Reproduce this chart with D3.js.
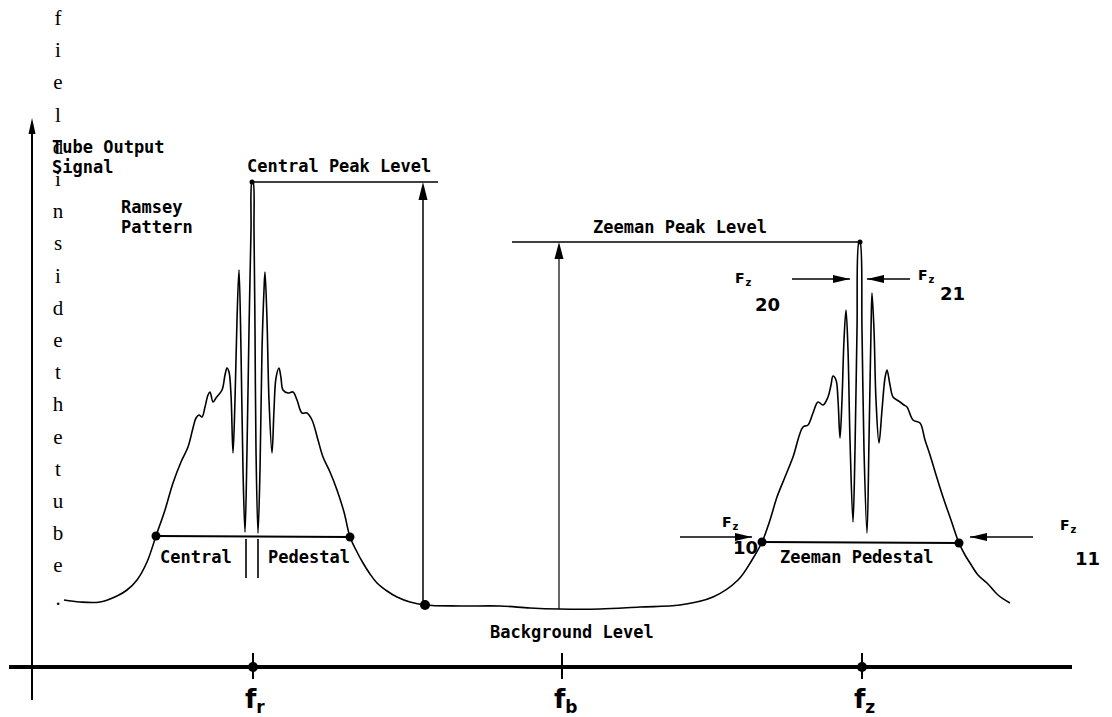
<!DOCTYPE html>
<html>
<head>
<meta charset="utf-8">
<script src="https://cdn.jsdelivr.net/npm/d3@7"></script>
<style>
  body { margin: 0; background: #fff; }
  svg { display: block; }
  .mono { font-family: "DejaVu Sans Mono", monospace; font-size: 17px; font-weight: bold; }
  .sans { font-family: "DejaVu Sans", sans-serif; font-weight: bold; }
  .serif { font-family: "Liberation Serif", serif; font-size: 21px; }
</style>
</head>
<body>
<svg id="chart"></svg>
<script>
// tube output trace: [frequency (arb. units), signal (arb. units)]
const tubeTrace = [
  [32,67],[48,65],[68,65],[85,71],[95,77],[105,87],[115,105],[124,131],[133,157],[141,184],
  [149,205],[156,220],[161,239],[164,249],[167,252],[170,250],[173,260],[176,272],[178,275],
  [181,265],[184,269],[190,277],[193,292],[195,299],[197,295],[199,272],[201,214],[203,267],
  [205,347],[207,397],[209,317],[211,197],[213,135],[215,217],[217,337],[219,437],[220,485],
  [221,485],[222,437],[223,337],[224,217],[226,134],[228,197],[230,317],[232,377],[233,395],
  [235,347],[237,267],[240,214],[242,257],[244,289],[247,299],[249,289],[251,277],[256,274],
  [261,275],[265,267],[270,254],[275,254],[280,247],[286,227],[291,210],[298,195],[305,177],
  [312,155],[318,130],[324,117],[331,104],[338,93],[345,84],[355,76],[365,70],[378,65],[393,62],
  [428,61],[468,61],[498,59],[527,58],[568,58],[608,60],[648,62],
  [681,70],[706,87],[720,107],[730,125],[738,147],[745,170],[753,190],[761,210],[771,240],
  [776,242],[781,254],[786,265],[791,262],[796,270],[799,282],[801,291],[804,287],[806,267],
  [808,229],[810,267],[812,327],[814,357],[816,317],[818,227],[821,145],[823,217],[825,337],
  [827,425],[828,425],[830,337],[832,217],[835,134],[837,227],[839,337],[840,374],[842,337],
  [844,267],[847,224],[850,257],[853,289],[855,297],[858,282],[861,270],[865,267],[868,265],
  [872,262],[875,260],[881,247],[888,244],[893,227],[898,212],[905,189],[911,170],[919,147],
  [927,124],[933,112],[938,104],[946,92],[955,84],[966,72],[978,64]
];

// frequency markers on the axis
const markerNames = ["r", "b", "z"];
const markerFreqs = [221, 530, 830];
const markerDots = [true, false, true];

// levels
const centralPeak = 485, zeemanPeak = 425;
const centralBase = 62, zeemanBase = 58;
const centralPedestal = [[124,131],[318,130]];
const zeemanPedestal = [[730,125],[927,124]];

// Fz arrows: [from, to, signal]
const fzArrows = [[760,818,388],[878,835,388],[648,720,130],[1001,938,130]];
const fzNames = ["20", "21", "10", "11"];

const sideNote = "field inside the tube.";

const W = 1112, H = 717;
const svg = d3.select("#chart").attr("width", W).attr("height", H);

const x = d3.scaleLinear().domain([0, 1040]).range([32, 1072]);
const y = d3.scaleLinear().domain([0, 549]).range([667, 118]);

function head(tx, ty, dir, len, half) {
  let p;
  if (dir === "up") p = [[tx,ty],[tx-half,ty+len],[tx+half,ty+len]];
  else if (dir === "right") p = [[tx,ty],[tx-len,ty-half],[tx-len,ty+half]];
  else p = [[tx,ty],[tx+len,ty-half],[tx+len,ty+half]];
  svg.append("path").attr("d", "M" + p.join("L") + "Z").attr("fill", "#000");
}

// side note, one letter per line
svg.append("g").selectAll("text")
  .data(sideNote.replace(/ /g, "").split(""))
  .join("text")
  .attr("class", "serif")
  .attr("x", x(26))
  .attr("y", (d, i) => y(642 - 32.2 * i))
  .attr("text-anchor", "middle")
  .text(d => d);

// axes
svg.append("line").attr("x1", x(0)).attr("x2", x(0)).attr("y1", y(-33)).attr("y2", y(540))
  .attr("stroke", "#000").attr("stroke-width", 2);
head(x(0), y(549), "up", 16, 3.5);
svg.append("line").attr("x1", x(-23)).attr("x2", x(1040)).attr("y1", y(0)).attr("y2", y(0))
  .attr("stroke", "#000").attr("stroke-width", 4);

const mk = svg.append("g").selectAll("g").data(markerFreqs).join("g");
mk.append("line")
  .attr("x1", d => x(d)).attr("x2", d => x(d))
  .attr("y1", y(14)).attr("y2", y(-12))
  .attr("stroke", "#000").attr("stroke-width", 2);
mk.filter((d, i) => markerDots[i]).append("circle")
  .attr("cx", d => x(d)).attr("cy", y(0)).attr("r", 5);
const lab = mk.append("text").attr("class", "sans")
  .attr("x", d => x(d) - 8).attr("y", y(-41))
  .attr("font-size", 26);
lab.append("tspan").text("f");
lab.append("tspan").attr("font-size", 17).attr("dy", 5).text((d, i) => markerNames[i]);

// trace
const line = d3.line().x(d => x(d[0])).y(d => y(d[1])).curve(d3.curveCatmullRom.alpha(0.5));
svg.append("path").datum(tubeTrace).attr("d", line)
  .attr("fill", "none").attr("stroke", "#000").attr("stroke-width", 1.6);

// pedestals
[centralPedestal, zeemanPedestal].forEach(p => {
  svg.append("line").attr("x1", x(p[0][0])).attr("y1", y(p[0][1]))
    .attr("x2", x(p[1][0])).attr("y2", y(p[1][1]))
    .attr("stroke", "#000").attr("stroke-width", 2);
  p.forEach(d => svg.append("circle").attr("cx", x(d[0])).attr("cy", y(d[1])).attr("r", 4.5));
});
[214, 226].forEach(f => svg.append("line").attr("x1", x(f)).attr("x2", x(f))
  .attr("y1", y(128)).attr("y2", y(89)).attr("stroke", "#000").attr("stroke-width", 1.6));

// peak levels
svg.append("line").attr("x1", x(220)).attr("x2", x(406)).attr("y1", y(centralPeak)).attr("y2", y(centralPeak))
  .attr("stroke", "#000").attr("stroke-width", 1.5);
svg.append("circle").attr("cx", x(220)).attr("cy", y(centralPeak)).attr("r", 2.5);
svg.append("line").attr("x1", x(391)).attr("x2", x(391)).attr("y1", y(centralBase)).attr("y2", y(centralPeak - 10))
  .attr("stroke", "#000").attr("stroke-width", 1.5);
head(x(391), y(centralPeak), "up", 18, 4.5);
svg.append("circle").attr("cx", x(393)).attr("cy", y(centralBase)).attr("r", 5);

svg.append("line").attr("x1", x(480)).attr("x2", x(828)).attr("y1", y(zeemanPeak)).attr("y2", y(zeemanPeak))
  .attr("stroke", "#000").attr("stroke-width", 1.5);
svg.append("circle").attr("cx", x(828)).attr("cy", y(zeemanPeak)).attr("r", 2.5);
svg.append("line").attr("x1", x(527)).attr("x2", x(527)).attr("y1", y(zeemanBase)).attr("y2", y(zeemanPeak - 10))
  .attr("stroke", "#000").attr("stroke-width", 1.2);
head(x(527), y(zeemanPeak), "up", 17, 4.5);

// Fz arrows
fzArrows.forEach(a => {
  svg.append("line").attr("x1", x(a[0])).attr("x2", x(a[1])).attr("y1", y(a[2])).attr("y2", y(a[2]))
    .attr("stroke", "#000").attr("stroke-width", 1.6);
  head(x(a[1]), y(a[2]), a[1] > a[0] ? "right" : "left", 17, 4);
});
const fzPos = [[703,384,723,356],[886,387,908,367],[690,140,701,113],[1028,137,1043,102]];
fzPos.forEach((p, i) => {
  const t = svg.append("text").attr("class", "sans").attr("x", x(p[0])).attr("y", y(p[1])).attr("font-size", 14);
  t.append("tspan").text("F");
  t.append("tspan").attr("font-size", 10).attr("dy", 3).attr("dx", 1).text("z");
  svg.append("text").attr("class", "sans").attr("x", x(p[2])).attr("y", y(p[3]))
    .attr("font-size", 18).text(fzNames[i]);
});

// text labels
const labels = [
  ["Tube Output", 20, 514], ["Signal", 20, 494], ["Ramsey", 89, 454], ["Pattern", 89, 434],
  ["Central Peak Level", 215, 495], ["Zeeman Peak Level", 561, 434],
  ["Central", 128, 104], ["Pedestal", 236, 104], ["Zeeman Pedestal", 748, 104],
  ["Background Level", 458, 29]
];
svg.append("g").selectAll("text").data(labels).join("text")
  .attr("class", "mono")
  .attr("x", d => x(d[1])).attr("y", d => y(d[2]))
  .text(d => d[0]);
</script>
</body>
</html>
